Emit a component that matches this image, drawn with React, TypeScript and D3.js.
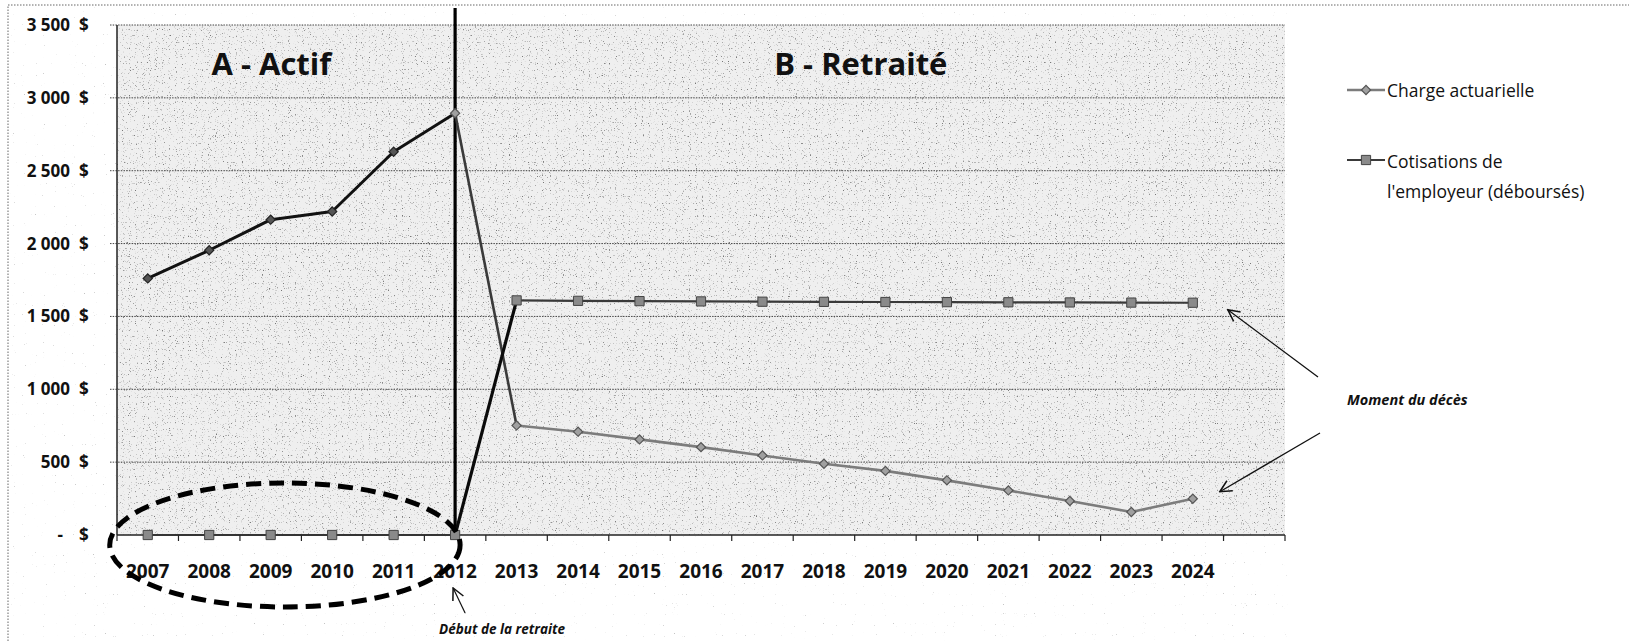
import React, { useEffect, useRef } from 'react';
import * as d3 from 'd3';

// Données
const years = [
  '2007', '2008', '2009', '2010', '2011', '2012', '2013', '2014', '2015',
  '2016', '2017', '2018', '2019', '2020', '2021', '2022', '2023', '2024',
];
const chargeActuarielle = [
  1761, 1954, 2164, 2220, 2630, 2894, 752, 709, 656,
  603, 546, 489, 440, 375, 306, 233, 158, 249,
];
const cotisationsEmployeur = [
  0, 0, 0, 0, 0, 0, 1610, 1607, 1605,
  1603, 1601, 1600, 1599, 1598, 1597, 1596, 1595, 1594,
];
const yTicks = [0, 500, 1000, 1500, 2000, 2500, 3000, 3500];
const seriesNames = ['Charge actuarielle', 'Cotisations de', "l'employeur (déboursés)"];
const retirementYear = '2012';
const deathYear = '2024';

const FONT = "'Open Sans', 'Noto Sans', sans-serif";

export default function App() {
  const svgRef = useRef<SVGSVGElement>(null);

  useEffect(() => {
    if (!svgRef.current) return;
    const width = 1629;
    const height = 641;
    const plot = { left: 117, right: 1285, top: 25, bottom: 535 };
    const slotCount = years.length + 1; // Excel laisse une case vide à droite

    const svg = d3.select(svgRef.current);
    svg.selectAll('*').remove();
    svg.attr('width', width).attr('height', height).attr('viewBox', `0 0 ${width} ${height}`);

    const band = d3
      .scaleBand<number>()
      .domain(d3.range(slotCount))
      .range([plot.left, plot.right])
      .padding(0);
    const x = (i: number) => (band(i) as number) + band.bandwidth() / 2;
    const y = d3.scaleLinear().domain([0, 3500]).range([plot.bottom, plot.top]);

    const defs = svg.append('defs');

    // texture tramée du fond (scan)
    const speckle = defs
      .append('filter')
      .attr('id', 'speckle')
      .attr('x', 0)
      .attr('y', 0)
      .attr('width', 1)
      .attr('height', 1);
    speckle
      .append('feTurbulence')
      .attr('type', 'fractalNoise')
      .attr('baseFrequency', 0.85)
      .attr('numOctaves', 1)
      .attr('seed', 7);
    speckle
      .append('feColorMatrix')
      .attr('type', 'matrix')
      .attr('values', '0 0 0 0 0.18  0 0 0 0 0.18  0 0 0 0 0.18  6 0 0 0 -3.72');

    const faint = defs
      .append('filter')
      .attr('id', 'faint')
      .attr('x', 0)
      .attr('y', 0)
      .attr('width', 1)
      .attr('height', 1);
    faint
      .append('feTurbulence')
      .attr('type', 'fractalNoise')
      .attr('baseFrequency', 0.9)
      .attr('numOctaves', 1)
      .attr('seed', 3);
    faint
      .append('feColorMatrix')
      .attr('type', 'matrix')
      .attr('values', '0 0 0 0 0.35  0 0 0 0 0.35  0 0 0 0 0.35  6 0 0 0 -4.4');

    defs
      .append('marker')
      .attr('id', 'arrow')
      .attr('viewBox', '0 0 12 12')
      .attr('refX', 11)
      .attr('refY', 6)
      .attr('markerWidth', 14)
      .attr('markerHeight', 14)
      .attr('markerUnits', 'userSpaceOnUse')
      .attr('orient', 'auto')
      .append('path')
      .attr('d', 'M1,1 L11,6 L1,11')
      .attr('fill', 'none')
      .attr('stroke', '#111')
      .attr('stroke-width', 1.3);

    // fond
    svg.append('rect').attr('width', width).attr('height', height).attr('fill', '#fff');
    svg
      .append('rect')
      .attr('x', 8)
      .attr('y', 5)
      .attr('width', 1280)
      .attr('height', height - 5)
      .attr('filter', 'url(#faint)');
    svg
      .append('rect')
      .attr('x', plot.left)
      .attr('y', plot.top)
      .attr('width', plot.right - plot.left)
      .attr('height', plot.bottom - plot.top)
      .attr('fill', '#efefef');
    svg
      .append('rect')
      .attr('x', plot.left)
      .attr('y', plot.top)
      .attr('width', plot.right - plot.left)
      .attr('height', plot.bottom - plot.top)
      .attr('filter', 'url(#speckle)');

    // bordure pointillée du graphique
    svg
      .append('path')
      .attr('d', `M8,${height} L8,5 L${width},5`)
      .attr('fill', 'none')
      .attr('stroke', '#666')
      .attr('stroke-width', 1)
      .attr('stroke-dasharray', '1.5 1.5');

    // grille horizontale
    svg
      .selectAll('.grid')
      .data(yTicks.filter((t) => t > 0))
      .enter()
      .append('line')
      .attr('x1', plot.left - 7)
      .attr('x2', plot.right)
      .attr('y1', (d) => y(d))
      .attr('y2', (d) => y(d))
      .attr('stroke', '#444')
      .attr('stroke-width', 1)
      .attr('stroke-dasharray', '1.5 1.2');

    // axe Y
    svg
      .append('line')
      .attr('x1', plot.left)
      .attr('x2', plot.left)
      .attr('y1', plot.top)
      .attr('y2', plot.bottom)
      .attr('stroke', '#222')
      .attr('stroke-width', 1.5);

    const fmt = d3.format(',');
    const yLabels = svg
      .selectAll('.ylab')
      .data(yTicks)
      .enter()
      .append('g')
      .attr('transform', (d) => `translate(0,${y(d) + 6})`)
      .attr('font-family', FONT)
      .attr('font-weight', 'bold')
      .attr('font-size', 17)
      .attr('fill', '#111');
    yLabels
      .append('text')
      .attr('x', (d) => (d === 0 ? 63 : 70))
      .attr('text-anchor', 'end')
      .text((d) => (d === 0 ? '-' : fmt(d).replace(',', ' ')));
    yLabels.append('text').attr('x', 79).text('$');

    // axe X
    svg
      .append('line')
      .attr('x1', plot.left)
      .attr('x2', plot.right)
      .attr('y1', plot.bottom)
      .attr('y2', plot.bottom)
      .attr('stroke', '#222')
      .attr('stroke-width', 1.3);
    svg
      .selectAll('.xtick')
      .data(d3.range(slotCount + 1))
      .enter()
      .append('line')
      .attr('x1', (i) => plot.left + i * band.bandwidth())
      .attr('x2', (i) => plot.left + i * band.bandwidth())
      .attr('y1', plot.bottom)
      .attr('y2', plot.bottom + 6)
      .attr('stroke', '#222')
      .attr('stroke-width', 1.2);
    svg
      .selectAll('.xlab')
      .data(years)
      .enter()
      .append('text')
      .attr('x', (_, i) => x(i))
      .attr('y', 578)
      .attr('text-anchor', 'middle')
      .attr('font-family', FONT)
      .attr('font-weight', 'bold')
      .attr('font-size', 19)
      .attr('fill', '#111')
      .text((d) => d);

    // ligne verticale: début de la retraite
    const iRet = years.indexOf(retirementYear);
    svg
      .append('line')
      .attr('x1', x(iRet))
      .attr('x2', x(iRet))
      .attr('y1', 8)
      .attr('y2', plot.bottom)
      .attr('stroke', '#000')
      .attr('stroke-width', 3.2);

    // titres des zones
    svg
      .append('text')
      .attr('x', (x(0) + x(iRet)) / 2 - 30)
      .attr('y', 75)
      .attr('text-anchor', 'middle')
      .attr('font-family', FONT)
      .attr('font-weight', 'bold')
      .attr('font-size', 31)
      .attr('fill', '#111')
      .text('A - Actif');
    svg
      .append('text')
      .attr('x', x(iRet) + 6.6 * band.bandwidth())
      .attr('y', 75)
      .attr('text-anchor', 'middle')
      .attr('font-family', FONT)
      .attr('font-weight', 'bold')
      .attr('font-size', 31)
      .attr('fill', '#111')
      .text('B - Retraité');

    // séries
    const seg = (values: number[], from: number, to: number, color: string, w: number) => {
      const idx = d3.range(from, to + 1);
      svg
        .append('path')
        .attr(
          'd',
          d3
            .line<number>()
            .x((i) => x(i))
            .y((i) => y(values[i]))(idx) as string
        )
        .attr('fill', 'none')
        .attr('stroke', color)
        .attr('stroke-width', w)
        .attr('stroke-linejoin', 'round');
    };

    seg(cotisationsEmployeur, 0, iRet, '#2a2a2a', 1.6);
    seg(cotisationsEmployeur, iRet + 1, years.length - 1, '#3a3a3a', 2.2);
    seg(chargeActuarielle, 0, iRet, '#111', 3);
    seg(chargeActuarielle, iRet, iRet + 1, '#3a3a3a', 2.6);
    seg(chargeActuarielle, iRet + 1, years.length - 1, '#7c7c7c', 2.6);
    seg(cotisationsEmployeur, iRet, iRet + 1, '#0a0a0a', 3.2);

    const square = d3.symbol().type(d3.symbolSquare).size(85)();
    const diamond = d3.symbol().type(d3.symbolSquare).size(42)();

    svg
      .selectAll('.sq')
      .data(cotisationsEmployeur)
      .enter()
      .append('path')
      .attr('d', square)
      .attr('transform', (d, i) => `translate(${x(i)},${y(d)})`)
      .attr('fill', '#8a8a8a')
      .attr('stroke', '#444')
      .attr('stroke-width', 1);

    svg
      .selectAll('.dia')
      .data(chargeActuarielle)
      .enter()
      .append('path')
      .attr('d', diamond)
      .attr('transform', (d, i) => `translate(${x(i)},${y(d)}) rotate(45)`)
      .attr('fill', (_, i) => (i < iRet ? '#555' : '#a0a0a0'))
      .attr('stroke', (_, i) => (i < iRet ? '#222' : '#555'))
      .attr('stroke-width', 1.2);

    // ellipse pointillée autour de la période active
    svg
      .append('ellipse')
      .attr('cx', (x(0) - 38 + x(iRet) + 5) / 2)
      .attr('cy', y(0) + 10)
      .attr('rx', (x(iRet) + 5 - (x(0) - 38)) / 2)
      .attr('ry', 62)
      .attr('fill', 'none')
      .attr('stroke', '#000')
      .attr('stroke-width', 5)
      .attr('stroke-dasharray', '15 8');

    // annotations
    svg
      .append('line')
      .attr('x1', x(iRet) + 10)
      .attr('y1', 613)
      .attr('x2', x(iRet) - 2)
      .attr('y2', 588)
      .attr('stroke', '#111')
      .attr('stroke-width', 1.2)
      .attr('marker-end', 'url(#arrow)');
    svg
      .append('text')
      .attr('x', x(iRet) + 47)
      .attr('y', 634)
      .attr('text-anchor', 'middle')
      .attr('font-family', FONT)
      .attr('font-style', 'italic')
      .attr('font-weight', 'bold')
      .attr('font-size', 13.5)
      .attr('fill', '#111')
      .text('Début de la retraite');

    const iDeath = years.indexOf(deathYear);
    svg
      .append('line')
      .attr('x1', 1318)
      .attr('y1', 377)
      .attr('x2', x(iDeath) + 35)
      .attr('y2', y(cotisationsEmployeur[iDeath]) + 7)
      .attr('stroke', '#111')
      .attr('stroke-width', 1.3)
      .attr('marker-end', 'url(#arrow)');
    svg
      .append('line')
      .attr('x1', 1320)
      .attr('y1', 433)
      .attr('x2', x(iDeath) + 27)
      .attr('y2', y(chargeActuarielle[iDeath]) - 7)
      .attr('stroke', '#111')
      .attr('stroke-width', 1.3)
      .attr('marker-end', 'url(#arrow)');
    svg
      .append('text')
      .attr('x', 1347)
      .attr('y', 405)
      .attr('font-family', FONT)
      .attr('font-style', 'italic')
      .attr('font-weight', 'bold')
      .attr('font-size', 14.5)
      .attr('fill', '#111')
      .text('Moment du décès');

    // légende
    const legend = svg.append('g').attr('font-family', FONT).attr('font-size', 17.5).attr('fill', '#111');
    legend
      .append('line')
      .attr('x1', 1347)
      .attr('x2', 1385)
      .attr('y1', 90)
      .attr('y2', 90)
      .attr('stroke', '#7c7c7c')
      .attr('stroke-width', 2.4);
    legend
      .append('path')
      .attr('d', diamond)
      .attr('transform', 'translate(1366,90) rotate(45)')
      .attr('fill', '#a0a0a0')
      .attr('stroke', '#555')
      .attr('stroke-width', 1.2);
    legend.append('text').attr('x', 1387).attr('y', 97).text(seriesNames[0]);
    legend
      .append('line')
      .attr('x1', 1347)
      .attr('x2', 1385)
      .attr('y1', 160)
      .attr('y2', 160)
      .attr('stroke', '#3a3a3a')
      .attr('stroke-width', 2.2);
    legend
      .append('path')
      .attr('d', square)
      .attr('transform', 'translate(1366,160)')
      .attr('fill', '#8a8a8a')
      .attr('stroke', '#444');
    legend.append('text').attr('x', 1387).attr('y', 168).text(seriesNames[1]);
    legend.append('text').attr('x', 1387).attr('y', 198).text(seriesNames[2]);
  }, []);

  return (
    <div style={{ position: 'absolute', left: 0, top: 0, width: 1629, height: 641 }}>
      <svg ref={svgRef} style={{ display: 'block' }} />
    </div>
  );
}
